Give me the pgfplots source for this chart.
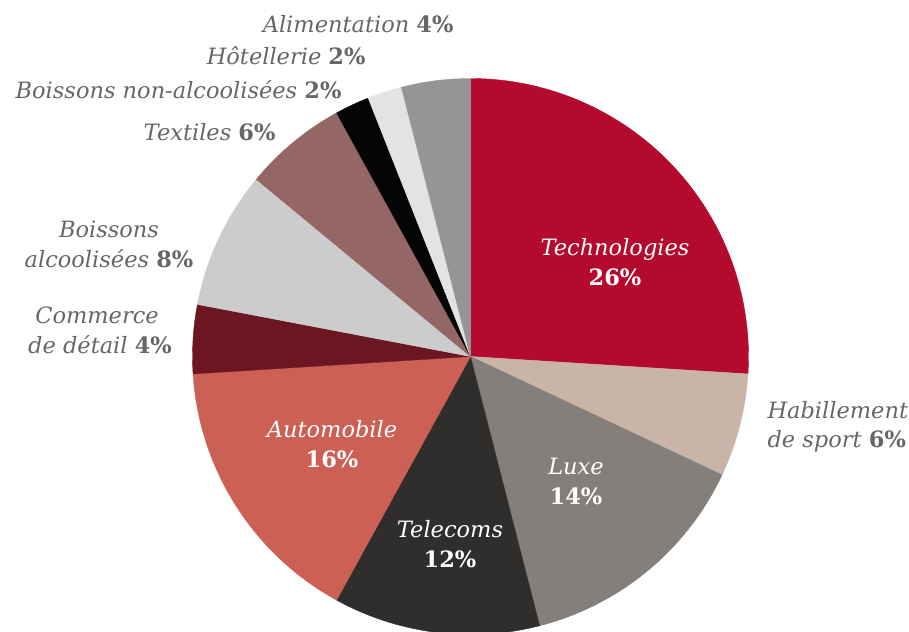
\documentclass[border=0pt]{standalone}
\usepackage{pgfplots}
\pgfplotsset{compat=1.18}
\usepackage{pgfplotstable}
\usepackage{fontspec}
\setmainfont{DejaVu Serif}
\definecolor{ctech}{HTML}{B30A2D}
\definecolor{chab}{HTML}{C8B5A8}
\definecolor{cluxe}{HTML}{857F7C}
\definecolor{ctele}{HTML}{302E2D}
\definecolor{cauto}{HTML}{CD6055}
\definecolor{ccomm}{HTML}{6B1621}
\definecolor{cbalc}{HTML}{CCCCCC}
\definecolor{ctext}{HTML}{946665}
\definecolor{cbnon}{HTML}{050505}
\definecolor{chot}{HTML}{E3E3E3}
\definecolor{calim}{HTML}{959595}
\definecolor{lgray}{HTML}{666666}
\pgfplotstableread{
cx cy start value col
470.5 356.5 0 26 ctech
470.5 356.5 26 6 chab
470.5 356.5 32 14 cluxe
470.5 356.5 46 12 ctele
470.5 356.5 58 16 cauto
470.5 356.5 74 4 ccomm
470.5 356.5 78 8 cbalc
470.5 356.5 86 6 ctext
470.5 356.5 92 2 cbnon
470.5 356.5 94 2 chot
470.5 356.5 96 4 calim
}\piedata
\newcommand{\lf}{\fontsize{22.5bp}{30bp}\selectfont}
\begin{document}
\begin{tikzpicture}
\begin{axis}[hide axis, scale only axis, width=909bp, height=632bp,
  xmin=0, xmax=909, ymin=0, ymax=632, y dir=reverse, clip marker paths=true]
\addplot[scatter, only marks, mark=*, mark size=0pt, mark options={draw=none,fill=none},
  point meta=explicit symbolic,
  visualization depends on={\thisrow{start}\as\pstart},
  visualization depends on={\thisrow{value}\as\pval},
  scatter/@pre marker code/.code={%
    \pgfmathsetmacro\aS{90-3.6*\pstart}%
    \pgfmathsetmacro\aE{90-3.6*(\pstart+\pval)}%
    \filldraw[fill=\pgfplotspointmeta, draw=\pgfplotspointmeta, line width=0.4pt]
      (0,0) -- (\aS:278bp) arc[start angle=\aS, end angle=\aE, radius=278bp] -- cycle;
  },
  scatter/@post marker code/.code={}]
  table[x=cx, y=cy, meta=col] \piedata;
% inside labels
\node[font=\lf, text=white, anchor=base] at (axis cs:615,255) {\textit{Technologies}};
\node[font=\lf, text=white, anchor=base] at (axis cs:615,285) {\textbf{26\%}};
\node[font=\lf, text=white, anchor=base] at (axis cs:576,474) {\textit{Luxe}};
\node[font=\lf, text=white, anchor=base] at (axis cs:576,504) {\textbf{14\%}};
\node[font=\lf, text=white, anchor=base] at (axis cs:450,537) {\textit{Telecoms}};
\node[font=\lf, text=white, anchor=base] at (axis cs:450,567) {\textbf{12\%}};
\node[font=\lf, text=white, anchor=base] at (axis cs:332,437) {\textit{Automobile}};
\node[font=\lf, text=white, anchor=base] at (axis cs:332,467) {\textbf{16\%}};
% outside labels
\node[font=\lf, text=lgray, anchor=base west] at (axis cs:764,418) {\textit{Habillement}};
\node[font=\lf, text=lgray, anchor=base west] at (axis cs:764,447) {\textit{de sport} \textbf{6\%}};
\node[font=\lf, text=lgray, anchor=base east] at (axis cs:457,33) {\textit{Alimentation} \textbf{4\%}};
\node[font=\lf, text=lgray, anchor=base east] at (axis cs:369,65) {\textit{Hôtellerie} \textbf{2\%}};
\node[font=\lf, text=lgray, anchor=base east] at (axis cs:345,98) {\textit{Boissons non-alcoolisées} \textbf{2\%}};
\node[font=\lf, text=lgray, anchor=base east] at (axis cs:279,140) {\textit{Textiles} \textbf{6\%}};
\node[font=\lf, text=lgray, anchor=base] at (axis cs:109,237) {\textit{Boissons}};
\node[font=\lf, text=lgray, anchor=base] at (axis cs:109,267) {\textit{alcoolisées} \textbf{8\%}};
\node[font=\lf, text=lgray, anchor=base] at (axis cs:97,323) {\textit{Commerce}};
\node[font=\lf, text=lgray, anchor=base] at (axis cs:100,353) {\textit{de détail} \textbf{4\%}};
\end{axis}
\pgfresetboundingbox
\useasboundingbox (current axis.south west) rectangle (current axis.north east);
\end{tikzpicture}
\end{document}
